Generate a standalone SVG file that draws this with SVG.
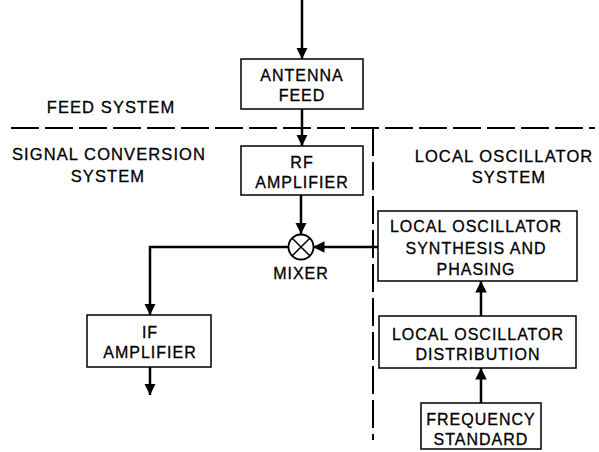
<svg xmlns="http://www.w3.org/2000/svg" width="599" height="452" viewBox="0 0 599 452">
<style>
.box{fill:#fff;stroke:#000;stroke-width:1.5}
.t{font-family:"Liberation Sans",Arial,sans-serif;font-size:16px;letter-spacing:1px;fill:#000;stroke:#000;stroke-width:0.3;text-anchor:middle}
.lbl{font-family:"Liberation Sans",Arial,sans-serif;font-size:16.5px;letter-spacing:1.1px;fill:#000;stroke:#000;stroke-width:0.3;text-anchor:middle}
.w{fill:none;stroke:#000;stroke-width:2.5}
.dash{fill:none;stroke:#000;stroke-width:2;stroke-dasharray:28 6}
</style>
<defs>
<marker id="ah" viewBox="0 0 10 10" refX="10" refY="5" markerWidth="4.6" markerHeight="4.6" orient="auto" markerUnits="strokeWidth">
<path d="M0,0 L10,5 L0,10 z" fill="#000"/>
</marker>
</defs>
<g id="boundaries">
<line class="dash" x1="11" y1="128" x2="595" y2="128"/>
<line class="dash" x1="373" y1="128" x2="373" y2="440"/>
</g>
<g id="labels">
<text class="lbl" x="111" y="113">FEED SYSTEM</text>
<text class="lbl" x="109" y="160">SIGNAL CONVERSION</text>
<text class="lbl" x="108" y="182">SYSTEM</text>
<text class="lbl" x="504" y="162">LOCAL OSCILLATOR</text>
<text class="lbl" x="509" y="183">SYSTEM</text>
</g>
<g id="connectors">
<line class="w" x1="302" y1="0" x2="302" y2="59" marker-end="url(#ah)"/>
<line class="w" x1="302" y1="109" x2="302" y2="146" marker-end="url(#ah)"/>
<line class="w" x1="301" y1="195" x2="301" y2="234" marker-end="url(#ah)"/>
<line class="w" x1="378" y1="247" x2="313" y2="247" marker-end="url(#ah)"/>
<polyline class="w" points="288.5,247 150,247 150,315" marker-end="url(#ah)"/>
<line class="w" x1="150" y1="367" x2="150" y2="395" marker-end="url(#ah)"/>
<line class="w" x1="481" y1="316" x2="481" y2="281" marker-end="url(#ah)"/>
<line class="w" x1="481" y1="403" x2="481" y2="368" marker-end="url(#ah)"/>
</g>
<g id="antenna-feed">
<rect class="box" x="241" y="59" width="122" height="50"/>
<text class="t" x="302" y="81">ANTENNA</text>
<text class="t" x="302" y="101">FEED</text>
</g>
<g id="rf-amplifier">
<rect class="box" x="241" y="146" width="122" height="49"/>
<text class="t" x="302" y="168">RF</text>
<text class="t" x="302" y="188">AMPLIFIER</text>
</g>
<g id="mixer">
<circle cx="301" cy="247" r="12.5" fill="#fff" stroke="#000" stroke-width="1.8"/>
<line x1="292.2" y1="238.2" x2="309.8" y2="255.8" stroke="#000" stroke-width="1.5"/>
<line x1="309.8" y1="238.2" x2="292.2" y2="255.8" stroke="#000" stroke-width="1.5"/>
<text class="t" x="301" y="279">MIXER</text>
</g>
<g id="if-amplifier">
<rect class="box" x="87" y="315" width="124" height="52"/>
<text class="t" x="150" y="338">IF</text>
<text class="t" x="150" y="358">AMPLIFIER</text>
</g>
<g id="lo-synthesis">
<rect class="box" x="378" y="211" width="199" height="70"/>
<text class="t" x="476" y="232">LOCAL OSCILLATOR</text>
<text class="t" x="476" y="254">SYNTHESIS AND</text>
<text class="t" x="476" y="275">PHASING</text>
</g>
<g id="lo-distribution">
<rect class="box" x="379" y="316" width="197" height="52"/>
<text class="t" x="478" y="340">LOCAL OSCILLATOR</text>
<text class="t" x="478" y="360">DISTRIBUTION</text>
</g>
<g id="frequency-standard">
<rect class="box" x="421" y="403" width="120" height="46"/>
<text class="t" x="481" y="425">FREQUENCY</text>
<text class="t" x="481" y="445">STANDARD</text>
</g>
</svg>
